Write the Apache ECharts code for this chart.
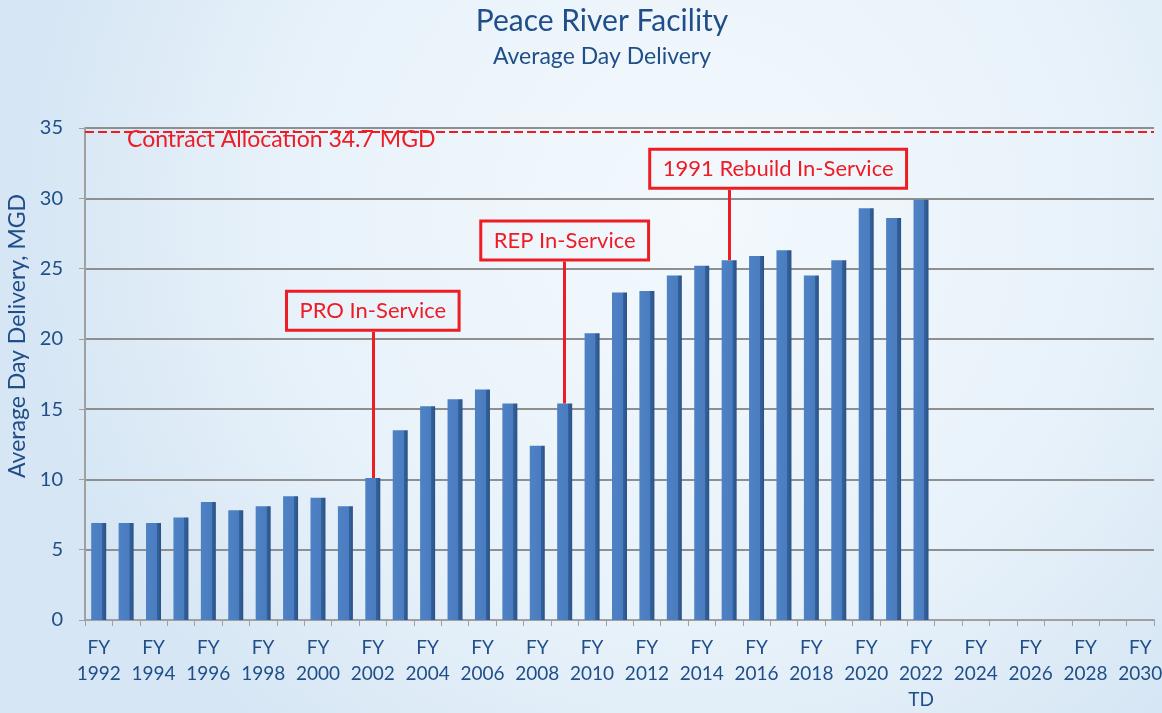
<!DOCTYPE html>
<html>
<head>
<meta charset="utf-8">
<script src="https://cdn.jsdelivr.net/npm/echarts@6/dist/echarts.min.js"></script>
<style>
  html, body { margin: 0; padding: 0; }
  #chart { width: 1162px; height: 713px; }
</style>
</head>
<body>
<div id="chart"></div>
<script>
// fiscal years on the x axis (1992 - 2030), only 1992 - 2022 have values
var years = [];
for (var y = 1992; y <= 2030; y++) years.push('FY ' + y + (y === 2022 ? ' TD' : ''));

var delivery = [
    6.9, 6.9, 6.9, 7.3, 8.4, 7.8, 8.1, 8.8, 8.7, 8.1,
    10.1, 13.5, 15.2, 15.7, 16.4, 15.4, 12.4, 15.4, 20.4, 23.3,
    23.4, 24.5, 25.2, 25.6, 25.9, 26.3, 24.5, 25.6, 29.3, 28.6,
    29.9
];

var contractAllocation = 34.7;

// callouts: label, year, bar top, line top, box centre, x shift of box
var callouts = [
    ['PRO In-Service', 'FY 2002', 10.1, 20.5, 22.0, 0],
    ['REP In-Service', 'FY 2009', 15.4, 25.5, 27.0, 0],
    ['1991 Rebuild In-Service', 'FY 2015', 25.6, 30.6, 32.1, 49]
];

var blue = '#1f4e89';
var red = '#ee1c25';
var font = 'Lato';

var chart = echarts.init(document.getElementById('chart'));

var option = {
    backgroundColor: {
        type: 'radial', x: 0.6, y: 0.3, r: 0.95,
        colorStops: [
            { offset: 0, color: '#f3f9fd' },
            { offset: 0.6, color: '#e8f2fa' },
            { offset: 1, color: '#d6e6f4' }
        ]
    },
    title: {
        text: 'Peace River Facility',
        subtext: 'Average Day Delivery',
        left: 597,
        textAlign: 'center',
        top: 1,
        itemGap: 9,
        textStyle: { color: blue, fontFamily: font, fontSize: 30, fontWeight: 'normal' },
        subtextStyle: { color: blue, fontFamily: font, fontSize: 23 }
    },
    grid: { left: 85, right: 8, top: 128, bottom: 93, outerBoundsMode: 'none' },
    xAxis: {
        type: 'category',
        data: years,
        axisLine: { lineStyle: { color: '#a0a0a0', width: 2 } },
        axisTick: { show: true, interval: 0, length: 6, lineStyle: { color: '#a0a0a0' } },
        axisLabel: {
            interval: 1,
            color: blue,
            fontFamily: font,
            fontSize: 19,
            lineHeight: 26,
            margin: 15,
            formatter: function (v) { return v.split(' ').join('\n'); }
        }
    },
    yAxis: {
        type: 'value',
        min: 0,
        max: 35,
        interval: 5,
        name: 'Average Day Delivery, MGD',
        nameLocation: 'middle',
        nameGap: 54,
        nameTextStyle: { color: blue, fontFamily: font, fontSize: 23, padding: [0, 0, 0, 76] },
        axisLine: { show: true, lineStyle: { color: '#a0a0a0', width: 2 } },
        axisTick: { show: true, length: 6, lineStyle: { color: '#a0a0a0' } },
        axisLabel: { color: blue, fontFamily: font, fontSize: 20, margin: 22 },
        splitLine: { lineStyle: { color: '#8f8f8f', width: 2 } }
    },
    series: [{
        type: 'bar',
        data: delivery,
        barWidth: 15,
        itemStyle: {
            color: {
                type: 'linear', x: 0, y: 0, x2: 1, y2: 0,
                colorStops: [
                    { offset: 0, color: '#4f82c4' },
                    { offset: 0.72, color: '#4a7dbf' },
                    { offset: 0.73, color: '#34629d' },
                    { offset: 1, color: '#2b5287' }
                ]
            }
        },
        markLine: {
            silent: true,
            symbol: 'none',
            animation: false,
            data: [
                {
                    yAxis: contractAllocation,
                    lineStyle: { color: red, width: 2, type: [9, 4] },
                    label: {
                        show: true,
                        position: 'insideStartBottom',
                        distance: [42, -4],
                        formatter: 'Contract Allocation 34.7 MGD',
                        color: red, fontFamily: font, fontSize: 23
                    }
                }
            ].concat(callouts.map(function (c) {
                return [
                    { coord: [c[1], c[2]], lineStyle: { color: red, width: 3, type: 'solid' }, label: { show: false } },
                    { coord: [c[1], c[3]] }
                ];
            }))
        },
        markPoint: {
            silent: true,
            animation: false,
            symbol: 'rect',
            symbolSize: 1,
            itemStyle: { color: 'rgba(0,0,0,0)' },
            data: callouts.map(function (c) {
                return {
                    coord: [c[1], c[4]],
                    label: {
                        show: true,
                        position: 'inside',
                        offset: [c[5], 0],
                        formatter: c[0],
                        color: red,
                        fontFamily: font,
                        fontSize: 22,
                        borderColor: red,
                        borderWidth: 3,
                        padding: [9, 13, 8, 13]
                    }
                };
            })
        }
    }]
};

chart.setOption(option);
</script>
</body>
</html>
